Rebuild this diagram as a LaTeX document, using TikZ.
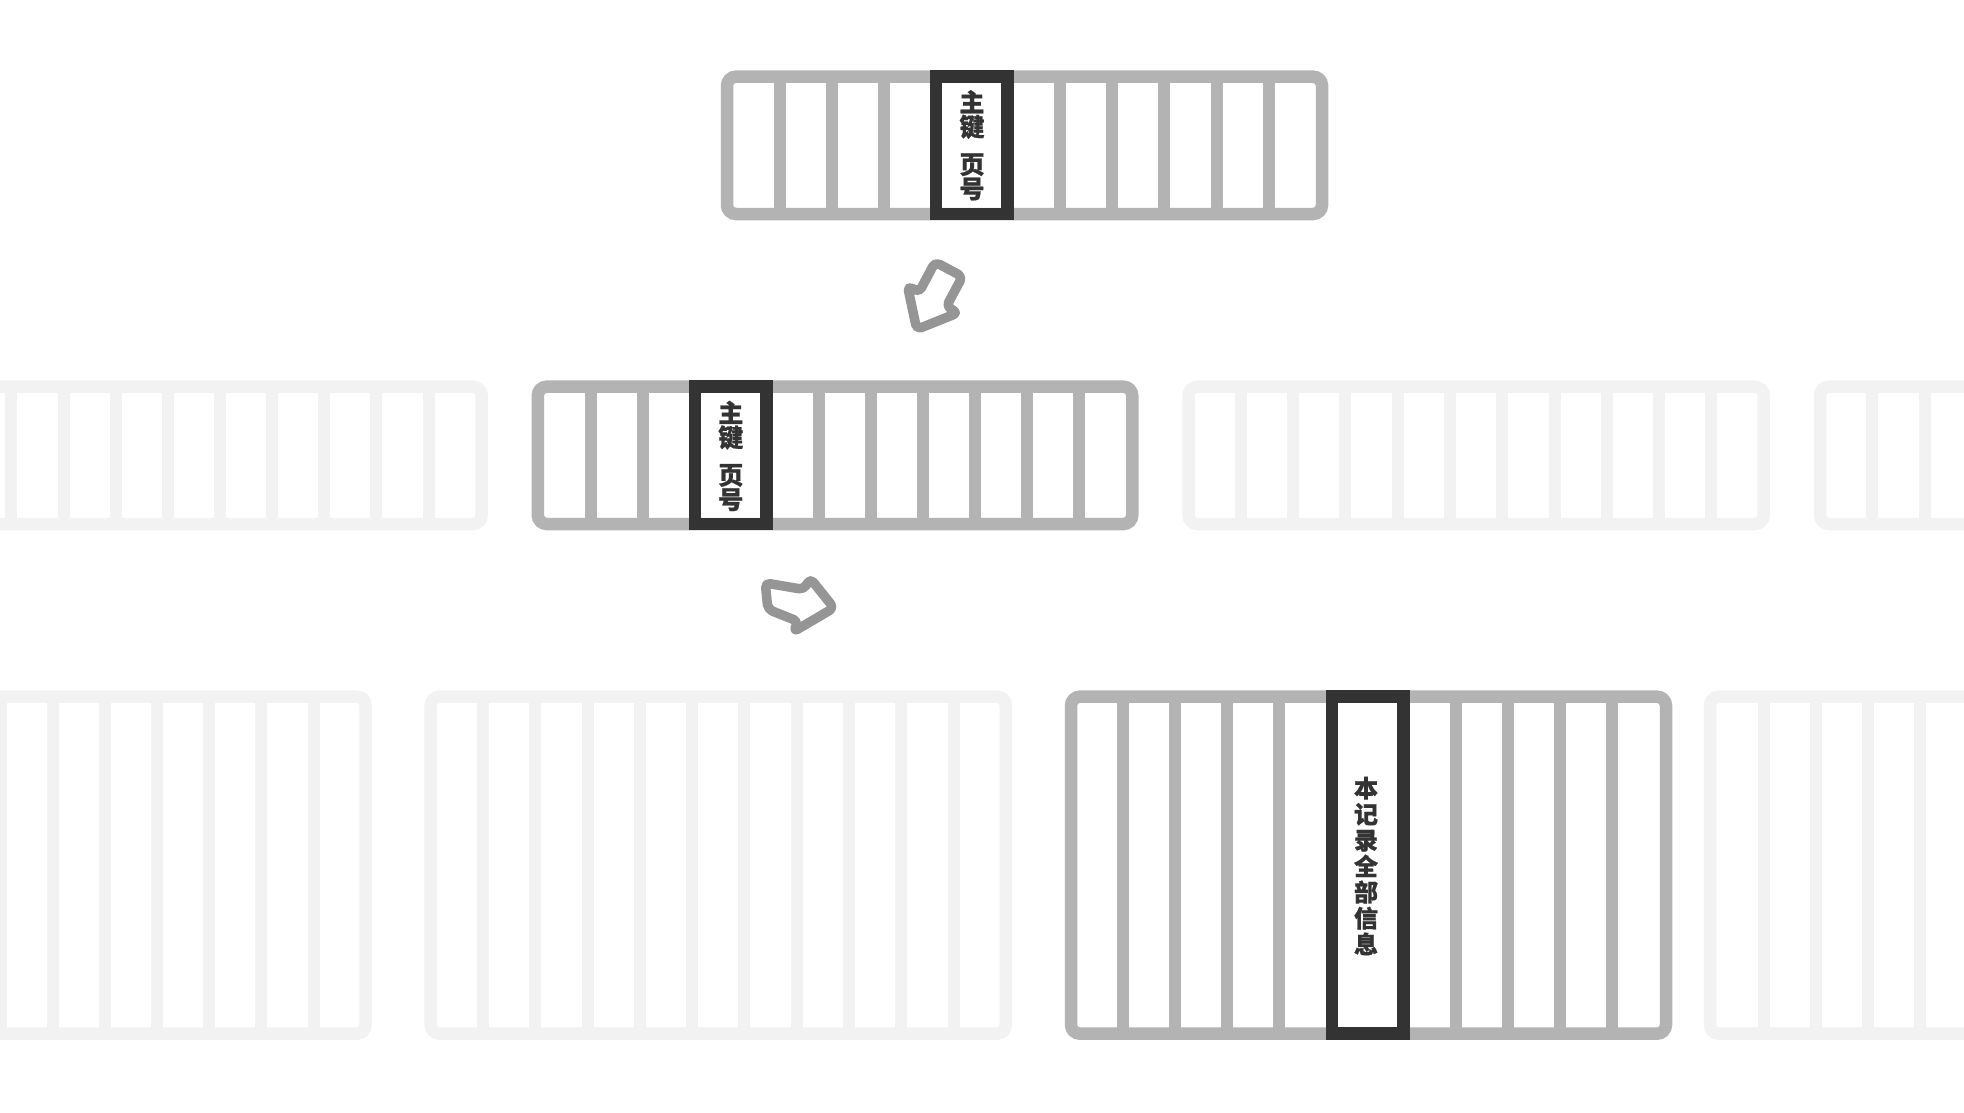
\documentclass[tikz,border=0pt]{standalone}
\usepackage{fontspec}
\newfontfamily\cjkfont{Noto Sans CJK SC}[BoldFeatures={FakeBold=0.8}]
\definecolor{framegray}{HTML}{B3B3B3}
\definecolor{fadegray}{HTML}{F2F2F2}
\definecolor{darkbox}{HTML}{333333}
\definecolor{arrowgray}{HTML}{959595}
\begin{document}
\begin{tikzpicture}[x=1pt,y=-1pt,
  blk/.style={line width=12.5pt, rounded corners=9pt},
  div/.style={line width=12pt},
  hl/.style={draw=darkbox, line width=12.5pt, sharp corners},
  lbl/.style={font=\cjkfont\bfseries\fontsize{25pt}{24.5pt}\selectfont, text=darkbox, align=center, inner sep=0pt},
  lblb/.style={font=\cjkfont\bfseries\fontsize{24pt}{26pt}\selectfont, text=darkbox, align=center, inner sep=0pt},
  arr/.style={draw=arrowgray, line width=9.5pt, line join=round, rounded corners=5pt}]
\useasboundingbox (0,0) rectangle (1964,1112);
\fill[white] (0,0) rectangle (1964,1112);
\clip (0,0) rectangle (1964,1112);

% ---------- top block ----------
\draw[blk, framegray] (727,76.7) rectangle (1322,214);
\foreach \x in {779.7,832.1,884.2,1059.9,1112.2,1164.4,1216.6,1268.9}
  \draw[div, framegray] (\x,76.7) -- (\x,214);
\draw[hl] (936.2,76.7) rectangle (1007.7,214);
\node[lbl] (toplbl) at (972,145.3) {主\\键\\[13pt]页\\号};

% ---------- middle row ----------
\draw[blk, fadegray] (-94,386.7) rectangle (481.7,524);
\foreach \x in {428.5,376,324,272,220,168,115.8,63.7,11.3,-41}
  \draw[div, fadegray] (\x,386.7) -- (\x,524);

\draw[blk, framegray] (537.8,386.7) rectangle (1132.3,524);
\foreach \x in {590.8,642.6,818.9,871.1,922.9,975.1,1027.3,1079.3}
  \draw[div, framegray] (\x,386.7) -- (\x,524);
\draw[hl] (695,386.7) rectangle (766.7,524);
\node[lbl] (midlbl) at (730.8,456) {主\\键\\[13pt]页\\号};

\draw[blk, fadegray] (1188.5,386.7) rectangle (1763.7,524);
\foreach \k in {1,...,10}
  \draw[div, fadegray] ({1188.5+52.29*\k},386.7) -- ({1188.5+52.29*\k},524);

\draw[blk, fadegray] (1820,386.7) rectangle (2395,524);
\foreach \k in {1,...,4}
  \draw[div, fadegray] ({1820+52.3*\k},386.7) -- ({1820+52.3*\k},524);

% ---------- bottom row ----------
\draw[blk, fadegray] (-207.5,696.7) rectangle (365.6,1033.7);
\foreach \k in {1,...,10}
  \draw[div, fadegray] ({365.6-52.1*\k},696.7) -- ({365.6-52.1*\k},1033.7);

\draw[blk, fadegray] (430.7,696.7) rectangle (1005.8,1033.7);
\foreach \k in {1,...,10}
  \draw[div, fadegray] ({430.7+52.28*\k},696.7) -- ({430.7+52.28*\k},1033.7);

\draw[blk, framegray] (1071,696.7) rectangle (1666,1033.7);
\foreach \x in {1123.4,1175.3,1227.2,1279.1,1456.1,1508,1559.9,1611.7}
  \draw[div, framegray] (\x,696.7) -- (\x,1033.7);
\draw[hl] (1331.8,696.7) rectangle (1403.3,1033.7);
\node[lblb] (botlbl) at (1366,866) {本\\记\\录\\全\\部\\信\\息};

\draw[blk, fadegray] (1710,696.7) rectangle (2285,1033.7);
\foreach \x in {1764.2,1816.1,1868,1919.9,1971.8}
  \draw[div, fadegray] (\x,696.7) -- (\x,1033.7);

% ---------- arrows ----------
\begin{scope}[shift={(935,296)}, scale=1.1, shift={(-935,-296)}]
\draw[arr] (935.1,265.1) -- (920.6,292.5) -- (910.0,286.9) -- (918.4,326.4)
  -- (955.9,311.3) -- (945.3,305.6) -- (959.9,278.3) -- cycle;
\end{scope}
\begin{scope}[shift={(799,606)}, scale=1.1, shift={(-799,-606)}]
\draw[arr] (768.3,585) -- (803.3,591) -- (809.3,581) -- (830.7,607.7)
  -- (794,629.3) -- (798.3,620) -- (770.7,609) -- cycle;
\end{scope}
\end{tikzpicture}
\end{document}
